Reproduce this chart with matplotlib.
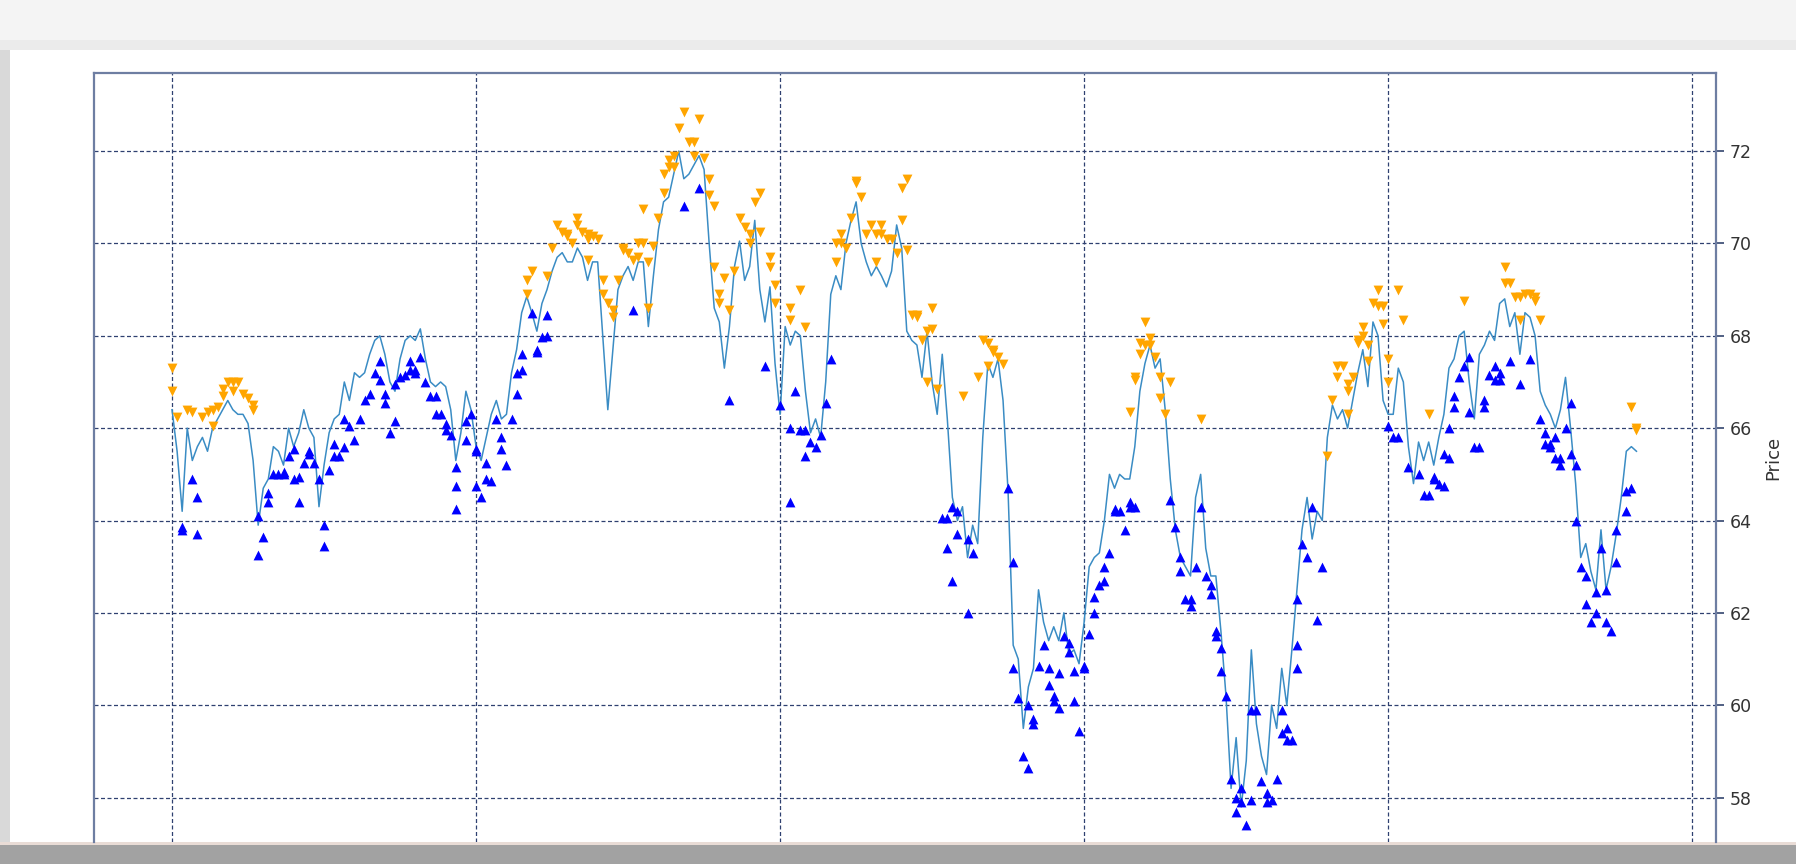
import matplotlib
matplotlib.use('Agg')
import matplotlib.pyplot as plt
from matplotlib.patches import Rectangle

# ---- data (x = trading day index) ----
close = [
    66.4, 65.5, 64.2, 66.0, 65.3, 65.6, 65.8, 65.5, 66.0, 66.2,
    66.4, 66.6, 66.4, 66.3, 66.3, 66.1, 65.3, 63.9, 64.7, 64.9,
    65.6, 65.5, 65.2, 66.0, 65.6, 65.9, 66.4, 66.0, 65.8, 64.3,
    65.2, 65.9, 66.2, 66.3, 67.0, 66.6, 67.2, 67.1, 67.2, 67.6,
    67.9, 68.0, 67.6, 67.0, 66.8, 67.5, 67.9, 68.0, 67.9, 68.15,
    67.5, 67.0, 66.9, 67.0, 66.9, 66.4, 65.3, 65.9, 66.8, 66.4,
    65.6, 65.3, 65.8, 66.3, 66.6, 66.2, 66.3, 67.2, 67.7, 68.5,
    68.85, 68.5, 68.1, 68.7, 69.0, 69.4, 69.7, 69.8, 69.6, 69.6,
    69.9, 69.7, 69.2, 69.6, 69.6, 68.0, 66.4, 67.7, 69.0, 69.3,
    69.5, 69.2, 69.6, 69.6, 68.2, 69.3, 70.3, 70.9, 71.0, 71.5,
    72.0, 71.4, 71.5, 71.7, 71.9, 71.6, 70.0, 68.6, 68.3, 67.3,
    68.2, 69.5, 70.05, 69.2, 69.5, 70.5, 69.0, 68.3, 69.06, 67.4,
    66.3, 68.2, 67.8, 68.1, 68.0, 66.8, 65.9, 66.2, 65.8, 67.0,
    68.9, 69.3, 69.0, 70.0, 70.5, 70.9, 70.0, 69.6, 69.3, 69.5,
    69.3, 69.06, 69.4, 70.4, 69.9, 68.1, 67.9, 67.8, 67.1, 68.1,
    67.0, 66.3, 67.6, 66.2, 64.5, 64.0, 64.3, 63.2, 63.9, 63.5,
    65.8, 67.4, 67.1, 67.5, 66.6, 64.6, 61.3, 61.0, 59.5, 60.4,
    60.8, 62.5, 61.8, 61.4, 61.7, 61.4, 62.0, 61.1, 61.2, 60.9,
    61.8, 63.0, 63.2, 63.3, 64.0, 65.0, 64.7, 65.0, 64.9, 64.9,
    65.6, 66.8, 67.4, 67.8, 67.3, 67.5, 66.4, 64.9, 63.8, 63.2,
    63.0, 62.8, 64.5, 65.0, 63.4, 62.8, 62.8, 61.6, 60.2, 58.2,
    59.3, 57.8, 58.8, 61.2, 59.6, 58.9, 58.5, 60.0, 59.5, 60.8,
    60.0, 61.2, 62.5, 63.8, 64.5, 63.6, 64.2, 64.0, 65.8, 66.5,
    66.2, 66.4, 66.0, 66.6, 67.2, 67.7, 66.9, 68.3, 68.0, 66.6,
    66.3, 66.3, 67.3, 67.0, 65.6, 64.8, 65.7, 65.3, 65.7, 65.2,
    65.8, 66.3, 67.3, 67.5, 68.0, 68.1, 67.0, 66.2, 67.6, 67.8,
    68.1, 67.9, 68.7, 68.8, 68.2, 68.5, 67.6, 68.5, 68.4, 68.0,
    66.8, 66.5, 66.3, 66.0, 66.4, 67.1, 66.0, 64.8, 63.2, 63.5,
    62.9, 62.5, 63.8, 62.5, 63.0, 63.7, 64.5, 65.5, 65.6, 65.5,
]
days = list(range(len(close)))

sell_x = [
    0, 0, 1, 3, 4, 6, 7, 8, 8, 9, 10, 10, 11, 12, 12, 13, 14, 15, 16, 16,
    70, 70, 71, 74, 75, 76, 77, 78, 78, 79, 80, 80, 81, 82, 82, 83, 84, 82,
    85, 85, 86, 87, 87, 88, 89, 89, 90, 91, 92, 92, 93, 93, 94, 94, 95, 96,
    97, 97, 98, 98, 99, 99, 100, 101, 102, 103, 103, 104, 105, 106, 106, 107,
    107, 108, 108, 109, 110, 111, 112, 113, 114, 114, 115, 116, 116, 118, 118,
    119, 119, 122, 122, 124, 125,
    131, 131, 132, 132, 133, 134, 135, 135, 136, 137, 138, 139, 139, 140, 140,
    141, 142, 143, 144, 144, 145, 145, 146, 147, 147, 148, 149, 149, 150, 150,
    151, 156, 159, 160, 161, 161, 162, 162, 163, 164,
    189, 190, 190, 191, 191, 192, 192, 193, 193, 194, 195, 195, 197, 196, 203,
    228, 229, 230, 230, 231, 232, 232, 232, 233, 234, 234, 235, 235, 236, 236,
    237, 238, 238, 239, 239, 240, 240, 242, 243, 248, 255, 263, 263, 264, 265,
    266, 266, 267, 268, 269, 269, 270, 288, 289, 289,
]
sell_y = [
    67.3, 66.8, 66.25, 66.4, 66.35, 66.25, 66.35, 66.4, 66.05, 66.45, 66.85,
    66.7, 67.0, 67.0, 66.8, 67.0, 66.75, 66.65, 66.5, 66.4,
    68.9, 69.2, 69.4, 69.3, 69.9, 70.4, 70.25, 70.2, 70.15, 70.0, 70.4, 70.55,
    70.25, 70.1, 70.2, 70.15, 70.1, 69.65,
    69.2, 68.9, 68.7, 68.4, 68.55, 69.2, 69.9, 69.85, 69.8, 69.65, 69.7, 70.0,
    70.0, 70.75, 69.6, 68.6, 69.95, 70.55, 71.1, 71.5, 71.65, 71.8, 71.9, 71.65,
    72.5, 72.85, 72.2, 71.9, 72.2, 72.7, 71.85, 71.4, 71.05, 70.8, 69.5, 68.9,
    68.7, 69.25, 68.55, 69.4, 70.55, 70.35, 70.0, 70.2, 70.9, 71.1, 70.25,
    69.5, 69.7, 69.1, 68.7, 68.6, 68.35, 69.0, 68.2,
    69.6, 70.0, 70.2, 70.0, 69.9, 70.55, 71.35, 71.3, 71.0, 70.2, 70.4, 70.2,
    69.6, 70.4, 70.2, 70.1, 70.1, 69.8, 70.5, 71.2, 71.4, 69.85, 68.45, 68.4,
    68.45, 67.9, 68.1, 67.0, 68.6, 68.15,
    66.85, 66.7, 67.1, 67.9, 67.85, 67.35, 67.7, 67.65, 67.55, 67.4,
    66.35, 67.1, 67.05, 67.6, 67.85, 67.8, 68.3, 67.95, 67.8, 67.55, 66.65,
    67.1, 67.0, 66.3, 66.2,
    65.4, 66.6, 67.1, 67.35, 67.35, 66.8, 66.95, 66.3, 67.1, 67.85, 67.9,
    68.0, 68.2, 67.8, 67.45, 68.7, 69.0, 68.65, 68.65, 68.25, 67.5, 67.0,
    69.0, 68.35, 66.3, 68.75, 69.5, 69.15, 69.15, 68.85, 68.85, 68.35, 68.9,
    68.9, 68.85, 68.75, 68.35, 66.45, 65.95, 66.0,
]

buy_x = [
    2, 2, 4, 5, 5,
    17, 18, 17, 19, 19, 20, 21, 22, 22, 23, 24, 24, 25, 25, 26, 27, 27, 28,
    29, 30, 30, 31, 32, 32, 33, 34, 34, 35, 36, 37, 38, 39, 40, 41, 41, 42,
    42, 43, 44, 44, 45, 46, 47, 47, 48, 48, 49, 50, 51, 52, 52, 53, 54, 54,
    55, 56, 56, 56, 58, 58, 59, 60, 60, 60, 61, 62, 62, 63, 64, 65, 65, 66,
    67, 68, 68, 69, 69, 71, 72, 72, 73, 74, 74,
    91, 101, 104, 110, 117,
    120, 122, 122, 123, 124, 125, 125, 126, 127, 128, 129, 130,
    152, 153, 153, 154, 154, 155, 155, 157, 157, 158,
    165, 166, 166, 167, 168, 169, 169, 170, 170, 171, 172, 173, 173, 174,
    174, 175, 175, 176, 177, 177, 178, 178, 179, 180, 180, 181, 182, 182,
    183, 184, 184, 185, 186, 186, 187, 188, 189, 189, 190,
    197, 198, 199, 199, 200, 201, 201, 202, 203, 204, 205, 205, 206, 206,
    207, 207, 208, 209, 210, 210, 211, 211, 212, 213, 213, 214, 215, 216,
    216, 217, 218, 219, 219, 220, 220, 221, 222, 222, 222,
    223, 224, 225, 226, 227,
    240, 241, 242, 244, 246, 247, 248, 249, 249, 250, 251, 251, 252, 252,
    253, 253, 254, 255, 256, 256, 257, 258, 259, 259, 260, 261, 261, 262,
    262, 264, 266, 268, 270, 271, 271, 272, 272, 273, 273, 274, 274, 275,
    276, 276, 277, 277, 278, 279, 279, 280, 281, 281, 282, 283, 283, 284,
    285, 285, 287, 287, 288,
]
buy_y = [
    63.85, 63.8, 64.9, 64.5, 63.7,
    64.1, 63.65, 63.25, 64.4, 64.6, 65.0, 65.0, 65.0, 65.05, 65.4, 65.55,
    64.9, 64.95, 64.4, 65.25, 65.5, 65.45, 65.25, 64.9, 63.9, 63.45, 65.1,
    65.4, 65.65, 65.4, 65.6, 66.2, 66.05, 65.75, 66.2, 66.6, 66.75, 67.2,
    67.45, 67.05, 66.75, 66.55, 65.9, 66.15, 66.95, 67.1, 67.15, 67.25, 67.45,
    67.25, 67.2, 67.55, 67.0, 66.7, 66.7, 66.3, 66.3, 65.95, 66.1, 65.85,
    65.15, 64.25, 64.75, 65.75, 66.15, 66.3, 65.5, 65.55, 64.75, 64.5, 64.9,
    65.25, 64.85, 66.2, 65.8, 65.55, 65.2, 66.2, 66.75, 67.2, 67.6, 67.25,
    68.5, 67.65, 67.7, 67.98, 68.0, 68.45,
    68.55, 70.8, 71.2, 66.6, 67.35,
    66.5, 64.4, 66.0, 66.8, 65.95, 65.95, 65.4, 65.7, 65.6, 65.85, 66.55, 67.5,
    64.05, 64.05, 63.4, 64.3, 62.7, 64.2, 63.7, 62.0, 63.6, 63.3,
    64.7, 63.1, 60.8, 60.15, 58.9, 58.65, 60.0, 59.7, 59.6, 60.85, 61.3, 60.8,
    60.45, 60.2, 60.1, 59.95, 60.7, 61.5, 61.35, 61.15, 60.75, 60.1, 59.45,
    60.8, 60.85, 61.55, 62.0, 62.35, 62.6, 62.7, 63.0, 63.3, 64.2, 64.25,
    64.2, 63.8, 64.4, 64.3, 64.3,
    64.45, 63.85, 63.2, 62.9, 62.3, 62.15, 62.3, 63.0, 64.3, 62.8, 62.6, 62.4,
    61.6, 61.5, 61.25, 60.75, 60.2, 58.4, 58.0, 57.7, 58.2, 57.9, 57.4, 57.95,
    59.9, 59.9, 58.35, 58.1, 57.9, 57.95, 58.4, 59.4, 59.9, 59.5, 59.25, 59.25,
    60.8, 61.3, 62.3,
    63.5, 63.2, 64.3, 61.85, 63.0,
    66.05, 65.8, 65.8, 65.15, 65.0, 64.55, 64.55, 64.9, 64.95, 64.8, 64.75,
    65.45, 65.35, 66.0, 66.7, 66.45, 67.1, 67.35, 67.55, 66.35, 65.6, 65.6,
    66.6, 66.45, 67.15, 67.35, 67.05, 67.05, 67.2, 67.45, 66.95, 67.5, 66.2,
    65.9, 65.65, 65.65, 65.6, 65.8, 65.35, 65.35, 65.2, 66.0, 66.55, 65.45,
    65.2, 64.0, 63.0, 62.2, 62.8, 61.8, 62.0, 62.45, 63.4, 62.5, 61.8, 61.6,
    63.1, 63.8, 64.2, 64.65, 64.7,
]

price_ticks = [58, 60, 62, 64, 66, 68, 70, 72]
day_ticks = [0, 60, 120, 180, 240, 300]

W, H = 1796, 864

fig = plt.figure(figsize=(W / 100, H / 100), dpi=100, facecolor='#f4f4f4')


def frame_rect(x0, y0, w, h, color):
    # rectangles of the screenshot frame, in pixel units from the bottom left
    fig.patches.append(Rectangle((x0 / W, y0 / H), w / W, h / H,
                                 transform=fig.transFigure, facecolor=color,
                                 edgecolor='none', zorder=-10))


# screenshot frame: white page, shadow strips and taskbar at the bottom
frame_rect(0, H - 50, W, 10, '#ebebeb')
frame_rect(0, 0, 10, H - 50, '#d9d9d9')
frame_rect(10, 22, W, 842 - 50, 'white')
frame_rect(0, 19, W, 3, '#e9dcd6')
frame_rect(0, 0, W, 19, '#a2a2a2')

ax = fig.add_axes([94 / W, 22 / H, (1716 - 94) / W, (842 - 73) / H])
ax.set_facecolor('white')

ax.plot(days, close, color='#3a8cc4', linewidth=1.1, zorder=2)
ax.scatter(sell_x, sell_y, marker='v', s=50, color='#ffa500', zorder=3, linewidths=0)
ax.scatter(buy_x, buy_y, marker='^', s=50, color='#0000ff', zorder=3, linewidths=0)

ax.set_xlim(-15.4, 304.7)
ax.set_ylim(57.04, 73.69)

ax.set_xticks(day_ticks)
ax.set_yticks(price_ticks)
ax.tick_params(axis='x', bottom=False, labelbottom=False)
ax.yaxis.tick_right()
ax.yaxis.set_label_position('right')
ax.tick_params(axis='y', left=False, right=True, length=6, width=1.2,
               color='#34466e', labelsize=12.5, labelcolor='#333333', pad=4)
ax.set_ylabel('Price', fontsize=13, color='#333333', labelpad=9)

ax.set_axisbelow(True)
ax.grid(True, color='#2f4070', linestyle=(0, (3.2, 2)), linewidth=0.9)

for side in ['left', 'right', 'top']:
    ax.spines[side].set_color('#6e7ea2')
    ax.spines[side].set_linewidth(1.6)
ax.spines['bottom'].set_visible(False)

fig.savefig('out.png', dpi=100, facecolor=fig.get_facecolor())
